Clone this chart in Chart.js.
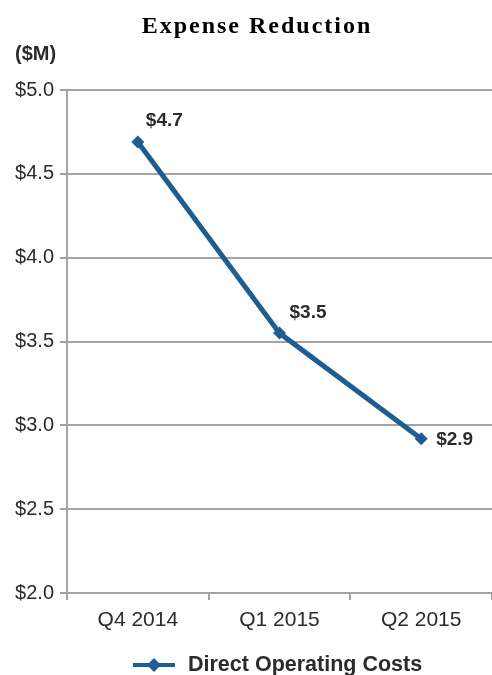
<!DOCTYPE html>
<html>
<head>
<meta charset="utf-8">
<script src="https://cdn.jsdelivr.net/npm/chart.js@4/dist/chart.umd.min.js"></script>
<style>
  html, body { margin: 0; padding: 0; background: #fff; overflow: hidden; }
  #wrap { width: 492px; height: 675px; }
</style>
</head>
<body>
<div id="wrap"><canvas id="chart"></canvas></div>
<script>
// Chart data
const quarters = ['Q4 2014', 'Q1 2015', 'Q2 2015'];
const directOperatingCosts = [4.69, 3.55, 2.92];
const valueLabels = ['$4.7', '$3.5', '$2.9'];
const seriesName = 'Direct Operating Costs';
const chartTitle = 'Expense Reduction';
const unitLabel = '($M)';

const lineColor = '#1d5d96';
const textColor = '#2b2b2b';
const gridColor = '#a3a3a3';
const sansFont = '"Liberation Sans", Arial, sans-serif';

// Title, unit label, point labels and legend drawn on top of the chart
const decorations = {
    id: 'decorations',
    afterDraw(chart) {
        const ctx = chart.ctx;
        const area = chart.chartArea;
        ctx.save();

        // title
        ctx.fillStyle = '#000';
        ctx.font = 'bold 24px "Liberation Serif", serif';
        ctx.textAlign = 'center';
        ctx.textBaseline = 'alphabetic';
        if ('letterSpacing' in ctx) ctx.letterSpacing = '2px';
        ctx.fillText(chartTitle, 257, 33);
        if ('letterSpacing' in ctx) ctx.letterSpacing = '0px';

        // unit label
        ctx.textBaseline = 'middle';
        ctx.fillStyle = textColor;
        ctx.font = 'bold 20px ' + sansFont;
        ctx.textAlign = 'left';
        ctx.fillText(unitLabel, 15, area.top - 36);

        // value labels next to each point
        const meta = chart.getDatasetMeta(0);
        const offsets = [[8, -21], [10, -20], [15, 1]];
        ctx.font = 'bold 19px ' + sansFont;
        meta.data.forEach((pt, i) => {
            ctx.fillText(valueLabels[i], pt.x + offsets[i][0], pt.y + offsets[i][1]);
        });

        // legend
        const ly = 665;
        ctx.strokeStyle = lineColor;
        ctx.lineWidth = 4;
        ctx.beginPath();
        ctx.moveTo(133, ly);
        ctx.lineTo(175, ly);
        ctx.stroke();
        ctx.fillStyle = lineColor;
        ctx.beginPath();
        ctx.moveTo(154, ly - 7);
        ctx.lineTo(161, ly);
        ctx.lineTo(154, ly + 7);
        ctx.lineTo(147, ly);
        ctx.closePath();
        ctx.fill();
        ctx.fillStyle = textColor;
        ctx.font = 'bold 21.5px ' + sansFont;
        ctx.fillText(seriesName, 188, ly);

        ctx.restore();
    }
};

const ctx = document.getElementById('chart').getContext('2d');
new Chart(ctx, {
    type: 'line',
    data: {
        labels: quarters,
        datasets: [{
            label: seriesName,
            data: directOperatingCosts,
            borderColor: lineColor,
            backgroundColor: lineColor,
            borderWidth: 5,
            tension: 0,
            pointStyle: 'rectRot',
            pointRadius: 6.5,
            pointHoverRadius: 6.5,
            pointBorderWidth: 0,
            clip: false
        }]
    },
    options: {
        responsive: true,
        maintainAspectRatio: false,
        animation: false,
        events: [],
        layout: {
            autoPadding: false,
            padding: { top: 90, right: 0, bottom: 0, left: 0 }
        },
        plugins: {
            legend: { display: false },
            title: { display: false },
            tooltip: { enabled: false }
        },
        scales: {
            x: {
                offset: true,
                grid: {
                    offset: true,
                    drawOnChartArea: false,
                    drawTicks: true,
                    tickLength: 7,
                    color: gridColor,
                    lineWidth: 2
                },
                border: { color: gridColor, width: 2 },
                ticks: {
                    color: textColor,
                    font: { size: 21, family: sansFont },
                    padding: 8
                },
                afterFit: scale => {
                    scale.height = 82;
                    scale.paddingLeft = 0;
                    scale.paddingRight = 0;
                }
            },
            y: {
                min: 2,
                max: 5,
                grid: {
                    color: gridColor,
                    lineWidth: 2,
                    tickLength: 7
                },
                border: { color: gridColor, width: 2 },
                ticks: {
                    stepSize: 0.5,
                    color: textColor,
                    font: { size: 20, family: sansFont },
                    padding: 6,
                    callback: v => '$' + v.toFixed(1)
                },
                afterFit: scale => { scale.width = 67; }
            }
        }
    },
    plugins: [decorations]
});
</script>
</body>
</html>
